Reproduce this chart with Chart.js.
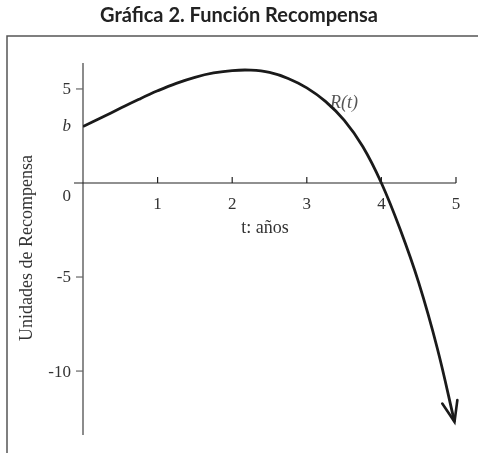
<!DOCTYPE html>
<html>
<head>
<meta charset="utf-8">
<script src="https://cdn.jsdelivr.net/npm/chart.js@4.4.1/dist/chart.umd.min.js"></script>
<style>
    html, body { margin: 0; padding: 0; background: #fff; }
    #wrap { position: relative; width: 478px; height: 453px; }
</style>
</head>
<body>
<div id="wrap"><canvas id="rewardChart" width="478" height="453"></canvas></div>
<script>
// t values (years) and reward units
const tValues = [0, 0.25, 0.5, 0.75, 1.0, 1.25, 1.5, 1.75, 2.0, 2.25, 2.5, 2.75, 3.0, 3.25, 3.5, 3.75, 4.0, 4.25, 4.5, 4.75, 4.98];
const rValues = [3.0, 3.48, 3.97, 4.45, 4.9, 5.3, 5.62, 5.85, 5.98, 6.0, 5.88, 5.56, 5.06, 4.34, 3.34, 1.94, 0, -2.45, -5.3, -8.8, -12.7];

const xTicks = [1, 2, 3, 4, 5];
const yTicks = [5, 0, -5, -10];
const bValue = 3.0; // intercept marked as "b"

const serif = '"Liberation Serif", "DejaVu Serif", serif';

const axesPlugin = {
    id: 'axesPlugin',
    beforeDatasetsDraw(chart) {
        const ctx = chart.ctx;
        const xs = chart.scales.x;
        const ys = chart.scales.y;
        const x0 = xs.getPixelForValue(0);
        const y0 = ys.getPixelForValue(0);

        ctx.save();
        // outer frame (left and top edges)
        ctx.strokeStyle = '#555';
        ctx.lineWidth = 1.5;
        ctx.beginPath();
        ctx.moveTo(7, 453);
        ctx.lineTo(7, 36);
        ctx.lineTo(478, 36);
        ctx.stroke();

        // title
        ctx.fillStyle = '#222';
        ctx.font = 'bold 20px Lato, "Open Sans", sans-serif';
        ctx.textAlign = 'center';
        ctx.textBaseline = 'middle';
        ctx.fillText('Gráfica 2. Función Recompensa', 239, 16);

        // y axis
        ctx.strokeStyle = '#666';
        ctx.lineWidth = 1.5;
        ctx.beginPath();
        ctx.moveTo(x0, chart.chartArea.top);
        ctx.lineTo(x0, chart.chartArea.bottom);
        ctx.stroke();

        // x axis
        ctx.strokeStyle = '#222';
        ctx.lineWidth = 1.2;
        ctx.beginPath();
        ctx.moveTo(x0 - 9, y0);
        ctx.lineTo(xs.getPixelForValue(5), y0);
        ctx.stroke();

        // x ticks and labels
        ctx.fillStyle = '#333';
        ctx.font = '17px ' + serif;
        ctx.textAlign = 'center';
        ctx.textBaseline = 'middle';
        xTicks.forEach(v => {
            const px = xs.getPixelForValue(v);
            ctx.beginPath();
            ctx.moveTo(px, y0);
            ctx.lineTo(px, y0 - 6);
            ctx.stroke();
            ctx.fillText(String(v), px, y0 + 22);
        });

        // y ticks and labels
        ctx.strokeStyle = '#666';
        ctx.textAlign = 'right';
        yTicks.forEach(v => {
            const py = ys.getPixelForValue(v);
            if (v !== 0) {
                ctx.beginPath();
                ctx.moveTo(x0 - 7, py);
                ctx.lineTo(x0, py);
                ctx.stroke();
                ctx.fillText(v < 0 ? '-' + Math.abs(v) : String(v), x0 - 12, py + 1);
            } else {
                ctx.fillText('0', x0 - 12, py + 14);
            }
        });
        ctx.font = 'italic 17px ' + serif;
        ctx.fillText('b', x0 - 12, ys.getPixelForValue(bValue));

        // axis titles
        ctx.font = '18px ' + serif;
        ctx.textAlign = 'center';
        ctx.fillText('t: años', 265, 228);

        ctx.save();
        ctx.translate(27, 248);
        ctx.rotate(-Math.PI / 2);
        ctx.fillText('Unidades de Recompensa', 0, 0);
        ctx.restore();

        // curve label
        ctx.fillStyle = '#555';
        ctx.font = 'italic 18px ' + serif;
        ctx.fillText('R(t)', 344, 103);
        ctx.restore();
    },
    afterDatasetsDraw(chart) {
        // arrowhead on the end of the curve
        const ctx = chart.ctx;
        const xs = chart.scales.x;
        const ys = chart.scales.y;
        const n = tValues.length;
        const tipX = xs.getPixelForValue(tValues[n - 1]);
        const tipY = ys.getPixelForValue(rValues[n - 1]);
        const prevX = xs.getPixelForValue(tValues[n - 2]);
        const prevY = ys.getPixelForValue(rValues[n - 2]);
        const ang = Math.atan2(tipY - prevY, tipX - prevX);
        const len = 22;
        const spread = 0.36;
        ctx.save();
        ctx.strokeStyle = '#1a1a1a';
        ctx.lineWidth = 2.6;
        ctx.lineCap = 'round';
        ctx.lineJoin = 'miter';
        ctx.beginPath();
        ctx.moveTo(tipX - len * Math.cos(ang - spread), tipY - len * Math.sin(ang - spread));
        ctx.lineTo(tipX, tipY);
        ctx.lineTo(tipX - len * Math.cos(ang + spread), tipY - len * Math.sin(ang + spread));
        ctx.stroke();
        ctx.restore();
    }
};

const ctx = document.getElementById('rewardChart').getContext('2d');
const chart = new Chart(ctx, {
    type: 'scatter',
    data: {
        datasets: [{
            label: 'R(t)',
            data: tValues.map((t, i) => ({ x: t, y: rValues[i] })),
            showLine: true,
            borderColor: '#1a1a1a',
            borderWidth: 2.8,
            pointRadius: 0,
            tension: 0.4,
            fill: false
        }]
    },
    options: {
        responsive: false,
        animation: false,
        layout: { padding: { left: 83, right: 22, top: 63, bottom: 18 } },
        plugins: {
            legend: { display: false },
            tooltip: { enabled: false },
            title: { display: false }
        },
        scales: {
            x: { type: 'linear', min: 0, max: 5, display: false },
            y: { type: 'linear', min: -13.4, max: 6.38, display: false }
        }
    },
    plugins: [axesPlugin]
});
</script>
</body>
</html>
